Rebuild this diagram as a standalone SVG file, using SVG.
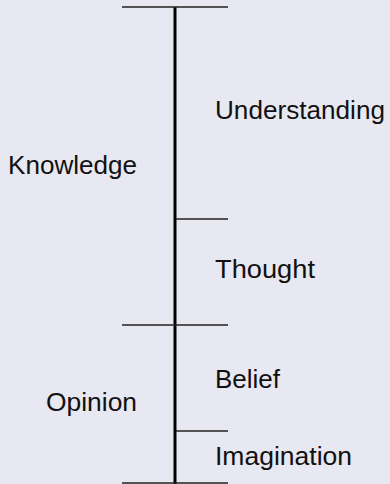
<svg xmlns="http://www.w3.org/2000/svg" width="390" height="484" viewBox="0 0 390 484">
  <style>
    .bg { fill: #e8e8f2; }
    .axis { stroke: #000; stroke-width: 3; }
    .tick { stroke: #222; stroke-width: 1.6; }
    .label { font-family: "Liberation Sans", Arial, sans-serif; font-size: 26px; fill: #111; }
  </style>
  <rect class="bg" x="0" y="0" width="390" height="484"/>

  <g id="connectors">
    <line class="axis" x1="175" y1="7" x2="175" y2="484"/>
    <line class="tick" x1="122" y1="7" x2="228" y2="7"/>
    <line class="tick" x1="176" y1="219" x2="228" y2="219"/>
    <line class="tick" x1="122" y1="325" x2="228" y2="325"/>
    <line class="tick" x1="176" y1="431" x2="228" y2="431"/>
    <line class="tick" x1="122" y1="483" x2="228" y2="483"/>
  </g>

  <g id="knowledge"><text class="label" x="8" y="174" textLength="129" lengthAdjust="spacingAndGlyphs">Knowledge</text></g>
  <g id="opinion"><text class="label" x="46" y="411" textLength="91" lengthAdjust="spacingAndGlyphs">Opinion</text></g>
  <g id="understanding"><text class="label" x="215" y="119" textLength="170" lengthAdjust="spacingAndGlyphs">Understanding</text></g>
  <g id="thought"><text class="label" x="215" y="278" textLength="100" lengthAdjust="spacingAndGlyphs">Thought</text></g>
  <g id="belief"><text class="label" x="215" y="388" textLength="65" lengthAdjust="spacingAndGlyphs">Belief</text></g>
  <g id="imagination"><text class="label" x="215" y="465" textLength="137" lengthAdjust="spacingAndGlyphs">Imagination</text></g>
</svg>
